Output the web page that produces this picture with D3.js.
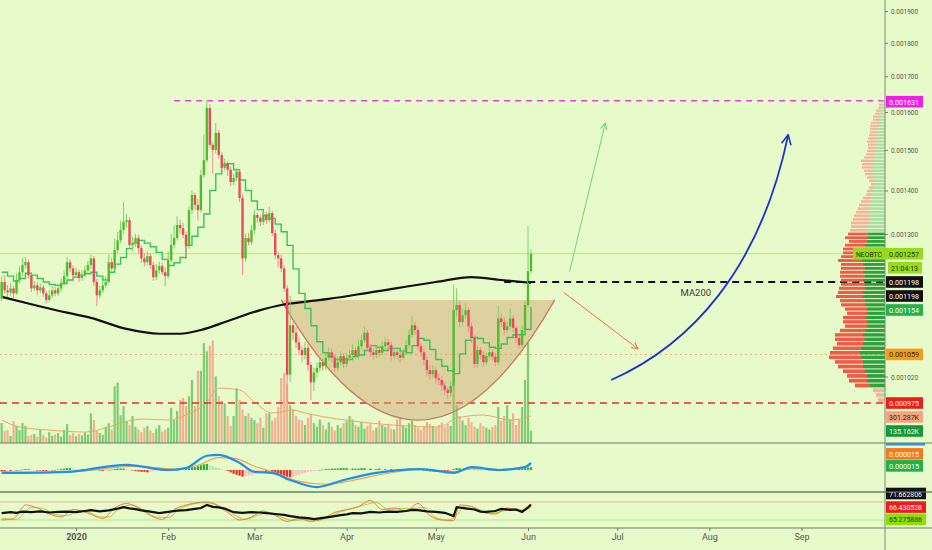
<!DOCTYPE html>
<meta charset="utf-8">
<body style="margin:0;background:#e7fbca">
<svg id="chart"></svg>
<script src="https://cdn.jsdelivr.net/npm/d3@7"></script>
<script>
const W = 932, H = 550;

// daily NEOBTC candles, first one on 2019-12-07, prices in 1e-6 BTC
const startDay = Date.UTC(2019, 11, 7);
const firstOpen = 1165;
const closes = [
  1198,1181,1177,1185,1175,1202,1218,1233,1239,1212,
  1185,1191,1181,1187,1175,1162,1171,1181,1175,1185,
  1195,1210,1239,1226,1212,1218,1206,1212,1222,1233,
  1247,1198,1171,1181,1191,1198,1239,1226,1265,1286,
  1309,1327,1331,1276,1280,1291,1269,1247,1239,1252,
  1233,1208,1222,1231,1218,1210,1243,1276,1291,1320,
  1313,1298,1274,1354,1389,1366,1354,1437,1474,1611,
  1513,1500,1544,1487,1455,1467,1450,1420,1430,1445,
  1382,1247,1291,1282,1309,1343,1336,1327,1343,1331,
  1347,1302,1254,1247,1226,1185,1023,1113,1099,1081,
  1067,1058,1071,1040,1010,1027,1035,1045,1038,1053,
  1063,1053,1035,1045,1056,1042,1053,1058,1067,1056,
  1074,1085,1099,1071,1063,1058,1067,1062,1074,1081,
  1076,1056,1063,1058,1053,1063,1076,1095,1113,1104,
  1074,1063,1049,1031,1024,1031,1017,1014,1005,997,
  992,1004,1142,1152,1119,1132,1142,1111,1089,1042,
  1067,1058,1045,1056,1063,1055,1045,1126,1119,1104,
  1111,1126,1108,1089,1076,1104,1152,1220,1257
];
const highs = [
  1210,1212,1192,1196,1190,1215,1230,1248,1250,1245,
  1218,1200,1198,1195,1192,1180,1182,1190,1188,1195,
  1205,1222,1250,1245,1232,1228,1224,1222,1232,1242,
  1255,1252,1205,1190,1200,1210,1255,1248,1290,1305,
  1330,1372,1345,1338,1295,1300,1298,1275,1258,1262,
  1258,1240,1235,1240,1238,1228,1262,1300,1320,1340,
  1332,1325,1305,1362,1400,1395,1380,1450,1540,1631,
  1622,1520,1570,1552,1495,1478,1472,1458,1440,1455,
  1450,1390,1300,1302,1320,1355,1348,1342,1352,1350,
  1362,1352,1310,1262,1255,1232,1192,1170,1125,1110,
  1090,1075,1082,1078,1045,1035,1045,1055,1052,1062,
  1072,1070,1060,1055,1065,1062,1062,1068,1078,1072,
  1085,1095,1110,1105,1078,1070,1075,1075,1082,1090,
  1088,1082,1072,1068,1065,1070,1085,1105,1130,1120,
  1110,1080,1070,1055,1040,1040,1036,1025,1020,1010,
  1002,1012,1193,1185,1160,1145,1155,1148,1118,1095,
  1075,1072,1065,1062,1070,1068,1062,1150,1135,1128,
  1120,1145,1132,1112,1095,1112,1160,1318,1267
];
const lows = [
  1160,1175,1168,1170,1165,1172,1195,1210,1225,1205,
  1178,1180,1172,1176,1168,1155,1158,1166,1169,1170,
  1178,1190,1205,1218,1205,1206,1198,1200,1208,1215,
  1225,1190,1150,1165,1175,1185,1195,1220,1222,1258,
  1280,1300,1315,1268,1262,1272,1258,1238,1230,1232,
  1225,1200,1202,1215,1212,1190,1205,1238,1268,1285,
  1300,1290,1245,1268,1345,1355,1330,1348,1430,1468,
  1505,1440,1490,1478,1448,1448,1435,1410,1412,1422,
  1372,1212,1240,1275,1276,1300,1325,1318,1320,1322,
  1325,1295,1245,1228,1218,1178,975,1010,1085,1070,
  1058,1045,1050,1030,980,995,1018,1028,1030,1032,
  1048,1045,1028,1030,1040,1035,1036,1048,1052,1050,
  1050,1068,1080,1065,1055,1050,1052,1055,1058,1068,
  1068,1048,1050,1050,1045,1048,1058,1070,1090,1095,
  1068,1055,1040,1020,1015,1018,1008,1005,995,988,
  982,985,1000,1130,1110,1112,1125,1100,1080,1035,
  1035,1050,1038,1040,1050,1048,1038,1040,1110,1095,
  1098,1105,1100,1080,1070,1072,1100,1148,1215
];
// volume, thousands
const vols = [
  222,133,144,78,244,189,144,222,189,78,
  89,100,70,155,90,60,120,80,95,110,
  70,145,210,90,110,75,100,85,120,95,
  330,255,140,110,90,180,220,150,630,670,
  310,410,240,200,300,180,150,120,170,190,
  140,110,160,200,130,150,170,390,255,355,
  480,500,410,520,700,410,800,800,1110,1020,
  1080,1140,740,520,470,440,300,190,300,610,
  480,370,300,330,280,255,220,280,170,330,
  330,250,280,400,720,780,650,420,380,300,
  260,250,200,280,320,220,180,260,200,150,
  230,180,140,200,170,220,240,300,260,200,
  180,230,160,190,220,140,170,250,200,180,
  210,160,150,260,290,190,170,220,250,200,
  170,150,180,230,210,190,170,200,230,180,
  210,190,650,420,300,250,200,280,230,180,
  160,220,190,170,150,180,200,400,250,300,
  420,260,330,200,260,400,700,1110,135
];
// green step line, one value every second day
const stepEvery = 2;
const stepLine = [
  1218,1210,1200,1205,1216,1212,1205,1198,1193,1191,
  1195,1202,1208,1212,1215,1218,1210,1202,1218,1235,
  1249,1268,1280,1286,1280,1272,1260,1245,1232,1238,
  1249,1275,1295,1315,1345,1400,1440,1462,1465,1450,
  1425,1400,1375,1355,1342,1335,1322,1305,1275,1225,
  1175,1145,1112,1082,1062,1055,1050,1050,1050,1055,
  1058,1066,1075,1072,1066,1070,1070,1065,1062,1075,
  1088,1085,1068,1050,1038,1030,1025,1060,1085,1090,
  1088,1080,1072,1070,1078,1090,1095,1095,1105,1148
];
// [day, value] pairs
const ma200 = [[0,1168],[11,1152],[22,1137],[30,1127],[42,1106],[53,1097],[60,1097],[67,1104],
  [77,1123],[87,1142],[94,1152],[103,1159],[110,1164],[124,1177],[146,1198],[158,1208],[168,1202],[178,1196]];
const volMa = [[0,255],[6,178],[16,144],[28,122],[36,178],[41,233],[48,266],[56,255],[62,311],[69,455],
  [73,610],[80,588],[85,455],[91,333],[98,366],[102,333],[124,222],[147,178],[153,277],[162,311],[171,255],[178,301]];
const macdLine = [[0,-6],[6,-6],[22,-4],[42,11],[56,0],[62,4],[69,30],[73,32],[80,15],[85,-4],[91,-6],
  [97,-21],[106,-36],[115,-21],[126,-6],[141,2],[152,-6],[158,6],[167,0],[176,6],[178,15]];
const macdSignal = [[0,-4],[10,-5],[25,-3],[45,8],[58,2],[66,10],[73,26],[78,25],[85,8],[92,-6],
  [100,-24],[109,-30],[118,-22],[128,-9],[141,1],[152,-3],[160,4],[168,1],[178,10]];
const macdHist = [
  -3,-3,-2,-2,-1,-1,0,1,2,2, 1,0,-1,-1,-2,-2,-1,-1,0,1,
  2,3,4,4,3,2,1,1,0,-1, 0,1,0,-1,-2,-1,0,1,2,3,
  3,3,2,1,-1,-2,-3,-4,-4,-5, -4,-3,-2,-1,-1,0,1,2,2,3,
  2,1,2,4,6,6,8,10,12,13, 10,8,6,4,2,0,-2,-5,-8,-10,
  -12,-14,-13,-12,-10,-8,-6,-5,-4,-4, -3,-4,-6,-8,-10,-12,-14,-15,-14,-12,
  -10,-8,-6,-4,-3,-2,-1,0,1,2, 2,3,3,3,4,4,4,3,3,3,
  3,4,4,3,3,2,2,3,2,2, 1,2,1,1,1,1,2,3,3,2,
  1,0,-1,-2,-3,-3,-4,-4,-4,-4, -4,-3,2,4,4,3,3,2,1,1,
  1,1,0,1,1,1,0,1,2,3, 3,3,2,2,2,3,4,5,6
];
const oscMain = [[0,43],[3,46],[5,44],[7,48],[10,46],[13,49],[16,45],[19,47],[22,48],[25,46],[28,50],[30,53],
  [33,49],[36,52],[39,58],[41,63],[43,59],[45,56],[47,52],[50,48],[53,43],[56,47],[59,51],[62,53],[65,57],
  [67,60],[69,70],[71,64],[73,62],[75,58],[78,46],[81,44],[84,46],[87,45],[89,43],[92,40],[95,37],[97,33],
  [100,29],[103,26],[105,23],[108,27],[111,31],[114,36],[116,39],[118,43],[121,42],[124,47],[127,45],
  [130,48],[133,47],[136,50],[138,54],[140,53],[143,49],[146,47],[149,44],[152,33],[153,63],[156,59],
  [159,55],[161,48],[163,47],[166,50],[168,57],[171,54],[173,55],[175,47],[177,62],[178,72]];
const oscK = [[0,20],[4,25],[8,70],[12,60],[16,40],[20,30],[24,55],[27,50],[31,35],[34,25],[38,60],[42,75],
  [46,60],[50,35],[54,22],[58,55],[62,70],[66,78],[69,80],[72,70],[76,45],[80,20],[84,30],[88,50],[92,35],
  [96,15],[100,25],[104,15],[108,25],[112,45],[116,55],[120,65],[124,85],[128,55],[132,60],[136,50],
  [140,75],[144,35],[148,20],[152,18],[154,70],[158,65],[162,45],[166,40],[170,60],[174,50],[178,66]];
const oscD = [[0,25],[5,22],[10,62],[14,58],[18,38],[22,35],[26,52],[29,47],[33,30],[36,30],[40,62],[44,70],
  [48,52],[52,30],[56,28],[60,58],[64,72],[68,78],[71,76],[74,62],[78,38],[82,22],[86,35],[90,45],[94,30],
  [98,18],[102,22],[106,18],[110,30],[114,48],[118,58],[122,70],[126,78],[130,55],[134,58],[138,58],
  [142,62],[146,28],[150,20],[153,35],[156,68],[160,58],[164,42],[168,48],[172,58],[176,52],[178,65]];

// visible range volume profile, rows of equal price step from the bottom
const vpStart = 975, vpStep = 8.2;
const vpDown = [50,60,80,150,180,200,220,250,280,320, 300,280,260,300,280,250,220,240,220,200,
  220,240,250,270,250,260,240,220,250,230, 240,220,240,220,200,220,200,180,220,200,
  180,170,180,160,150,140,120,110,100,80, 60,50,40,40,50,60,80,90,100,110,
  120,100,90,80,80,90,100,90,90,80, 80,90,80,70,70,60,50,40,30,20];
const vpUp = [20,30,40,150,180,180,200,220,220,240, 250,240,220,200,220,200,180,180,200,180,
  180,200,200,220,220,200,200,220,200,220, 200,220,230,220,220,200,200,180,180,170,
  170,170,160,160,160,150,150,150,140,140, 130,130,120,100,110,120,120,120,130,120,
  120,110,100,100,90,80,80,80,70,70, 70,60,60,50,50,40,40,30,30,20];
const valueArea = [3, 39];

const priceTicks = [1900, 1800, 1700, 1600, 1500, 1400, 1300, 1020];
const monthTicks = d3.range(0, 9).map(m => new Date(Date.UTC(2020, m, 1)));

// levels and drawings, [day, price]
const levelHigh = 1631, levelLow = 975, levelMid = 1059, lastPrice = 1257, ma200Level = 1198;
const cup = {left: 94, right: 186, top: 1162, bottom: 947};
const upArrow = [[191, 1220], [203, 1570]];
const downArrow = [[189, 1177], [214, 1069]];
const bigCurve = [[205, 1014], [231.5, 1076], [255, 1222], [264.5, 1539]];

const fmtP = v => (v / 1e6).toFixed(6);
const FONT = "Roboto, 'Liberation Sans', sans-serif";

const svg = d3.select("#chart").attr("width", W).attr("height", H).style("display", "block");
svg.append("rect").attr("width", W).attr("height", H).attr("fill", "#e7fbca");

const x = d3.scaleUtc()
  .domain([new Date(Date.UTC(2020, 0, 1)), new Date(Date.UTC(2020, 5, 1))])
  .range([76, 528]);
const day = i => new Date(startDay + i * 864e5);
const xi = i => x(day(i));
const y = d3.scaleLog().domain([975, 1900]).range([403, 11]);
const yVol = d3.scaleLinear().domain([0, 1000]).range([443, 353]);
const yMacd = d3.scaleLinear().domain([-40, 40]).range([489, 451]);
const yOsc = d3.scaleLinear().domain([20, 80]).range([520, 502]);
const vpW = d3.scaleLinear().domain([0, 600]).range([0, 60]);
const AX = 885;

const defs = svg.append("defs");
[["mainClip", 0, 0, AX, 443], ["macdClip", 0, 443, AX, 49], ["oscClip", 0, 492, AX, 36]].forEach(c => {
  defs.append("clipPath").attr("id", c[0]).append("rect")
    .attr("x", c[1]).attr("y", c[2]).attr("width", c[3]).attr("height", c[4]);
});
function marker(id, color, size) {
  defs.append("marker").attr("id", id).attr("viewBox", "0 0 10 10")
    .attr("refX", 9).attr("refY", 5).attr("markerWidth", size).attr("markerHeight", size)
    .attr("markerUnits", "userSpaceOnUse").attr("orient", "auto")
    .append("path").attr("d", "M1,1 L9,5 L1,9").attr("fill", "none")
    .attr("stroke", color).attr("stroke-width", 1.3);
}
marker("headG", "#6fcf6f", 8);
marker("headR", "#e8704f", 8);
marker("headB", "#1d2fd0", 12);

const candles = closes.map((c, i) => ({
  i, c, o: i ? closes[i - 1] : firstOpen, h: highs[i], l: lows[i], v: vols[i]
}));

const main = svg.append("g").attr("clip-path", "url(#mainClip)");

// volume
main.selectAll("rect.vol").data(candles).enter().append("rect")
  .attr("x", d => xi(d.i) - 1.1).attr("width", 2.2)
  .attr("y", d => yVol(d.v)).attr("height", d => yVol(0) - yVol(d.v))
  .attr("fill", d => d.c >= d.o ? "#72c86a" : "#f2a98a").attr("opacity", 0.9);
main.append("path").datum(volMa)
  .attr("d", d3.line().x(d => xi(d[0])).y(d => yVol(d[1])).curve(d3.curveMonotoneX))
  .attr("fill", "none").attr("stroke", "#f0a468").attr("stroke-width", 1);

// horizontal levels
function hline(g, price, from, color, width, dash) {
  g.append("line").attr("x1", from).attr("x2", AX).attr("y1", y(price)).attr("y2", y(price))
    .attr("stroke", color).attr("stroke-width", width).attr("stroke-dasharray", dash);
}
hline(main, lastPrice, 0, "#c3e858", 1, null);
hline(main, levelMid, 0, "#f0b070", 1, "2,3");
hline(main, levelLow, 0, "#ea2a2a", 1.6, "7,5");
hline(main, levelHigh, xi(58), "#e83ce0", 1.6, "6,5");

// cup
const cx0 = xi(cup.left), cx1 = xi(cup.right), cyTop = y(cup.top);
const cyCtrl = 2 * y(cup.bottom) - cyTop;
main.append("path")
  .attr("d", `M${cx0},${cyTop} L${cx1},${cyTop} Q${(cx0 + cx1) / 2},${cyCtrl} ${cx0},${cyTop} Z`)
  .attr("fill", "rgba(214,168,118,0.5)");
main.append("path")
  .attr("d", `M${cx0},${cyTop} Q${(cx0 + cx1) / 2},${cyCtrl} ${cx1},${cyTop}`)
  .attr("fill", "none").attr("stroke", "#c57c5c").attr("stroke-width", 1.3);

// MA200
main.append("path").datum(ma200)
  .attr("d", d3.line().x(d => xi(d[0])).y(d => y(d[1])).curve(d3.curveMonotoneX))
  .attr("fill", "none").attr("stroke", "#111").attr("stroke-width", 2.2);

// green step line
main.append("path").datum(stepLine)
  .attr("d", d3.line().x((d, k) => xi(k * stepEvery)).y(d => y(d)).curve(d3.curveStepAfter))
  .attr("fill", "none").attr("stroke", "#39c25a").attr("stroke-width", 1.4);

// candles
const cg = main.selectAll("g.candle").data(candles).enter().append("g");
cg.append("line")
  .attr("x1", d => xi(d.i)).attr("x2", d => xi(d.i))
  .attr("y1", d => y(Math.max(d.h, d.o, d.c))).attr("y2", d => y(Math.min(d.l, d.o, d.c)))
  .attr("stroke", d => d.c >= d.o ? "#7fcf6a" : "#ef8a8f").attr("stroke-width", 1);
cg.append("rect")
  .attr("x", d => xi(d.i) - 1.2).attr("width", 2.4)
  .attr("y", d => y(Math.max(d.o, d.c)))
  .attr("height", d => Math.max(1, y(Math.min(d.o, d.c)) - y(Math.max(d.o, d.c))))
  .attr("fill", d => d.c >= d.o ? "#4fbd2f" : "#ea4a58");

// MA200 level, arrows, text
hline(main, ma200Level, xi(169), "#111", 1.8, "7,5");
main.append("text").attr("x", xi(228.3)).attr("y", y(1170)).text("MA200")
  .attr("font-family", FONT).attr("font-size", 9.5).attr("fill", "#3a3a3a");
main.append("line")
  .attr("x1", xi(upArrow[0][0])).attr("y1", y(upArrow[0][1]))
  .attr("x2", xi(upArrow[1][0])).attr("y2", y(upArrow[1][1]))
  .attr("stroke", "#72d072").attr("stroke-width", 1).attr("marker-end", "url(#headG)");
main.append("line")
  .attr("x1", xi(downArrow[0][0])).attr("y1", y(downArrow[0][1]))
  .attr("x2", xi(downArrow[1][0])).attr("y2", y(downArrow[1][1]))
  .attr("stroke", "#e8704f").attr("stroke-width", 1).attr("marker-end", "url(#headR)");
const bp = bigCurve.map(d => [xi(d[0]), y(d[1])]);
main.append("path")
  .attr("d", `M${bp[0]} C${bp[1]} ${bp[2]} ${bp[3]}`)
  .attr("fill", "none").attr("stroke", "#1d2fd0").attr("stroke-width", 1.8)
  .attr("marker-end", "url(#headB)");

// volume profile
const vpRows = vpDown.map((dn, k) => ({k, dn, up: vpUp[k], p0: vpStart + k * vpStep, p1: vpStart + (k + 1) * vpStep}));
const inVA = d => d.k >= valueArea[0] && d.k <= valueArea[1];
const vp = svg.append("g");
vp.selectAll("rect.dn").data(vpRows).enter().append("rect")
  .attr("x", d => AX - vpW(d.up) - vpW(d.dn)).attr("width", d => vpW(d.dn))
  .attr("y", d => y(d.p1)).attr("height", d => Math.max(1, y(d.p0) - y(d.p1) - 1))
  .attr("fill", d => inVA(d) ? "#f05a46" : "#f5b39a");
vp.selectAll("rect.up").data(vpRows).enter().append("rect")
  .attr("x", d => AX - vpW(d.up)).attr("width", d => vpW(d.up))
  .attr("y", d => y(d.p1)).attr("height", d => Math.max(1, y(d.p0) - y(d.p1) - 1))
  .attr("fill", d => inVA(d) ? "#2fa03e" : "#a9dea3");

// MACD pane
const mg = svg.append("g").attr("clip-path", "url(#macdClip)");
mg.selectAll("rect").data(macdHist).enter().append("rect")
  .attr("x", (d, i) => xi(i) - 1.1).attr("width", 2.2)
  .attr("y", d => yMacd(Math.max(0, d)))
  .attr("height", d => Math.max(0.6, Math.abs(yMacd(d) - yMacd(0))))
  .attr("fill", (d, i) => {
    const prev = i ? macdHist[i - 1] : d;
    if (d >= 0) return d >= prev ? "#22b03a" : "#b5e6b0";
    return d <= prev ? "#ee2a2a" : "#f6c0b8";
  });
const lineI = (sc) => d3.line().x(d => xi(d[0])).y(d => sc(d[1])).curve(d3.curveMonotoneX);
mg.append("path").datum(macdSignal).attr("d", lineI(yMacd))
  .attr("fill", "none").attr("stroke", "#f0a050").attr("stroke-width", 1.1);
mg.append("path").datum(macdLine).attr("d", lineI(yMacd))
  .attr("fill", "none").attr("stroke", "#1e90e8").attr("stroke-width", 2.2);

// oscillator pane
const og = svg.append("g").attr("clip-path", "url(#oscClip)");
og.append("line").attr("x1", 0).attr("x2", AX).attr("y1", yOsc(80)).attr("y2", yOsc(80))
  .attr("stroke", "#e6cba3").attr("stroke-width", 1.6);
og.append("line").attr("x1", 0).attr("x2", AX).attr("y1", yOsc(20)).attr("y2", yOsc(20))
  .attr("stroke", "#b6e19a").attr("stroke-width", 1);
const lineL = (sc) => d3.line().x(d => xi(d[0])).y(d => sc(d[1])).curve(d3.curveLinear);
og.append("path").datum(oscD).attr("d", lineI(yOsc))
  .attr("fill", "none").attr("stroke", "#b2cc2a").attr("stroke-width", 1);
og.append("path").datum(oscK).attr("d", lineI(yOsc))
  .attr("fill", "none").attr("stroke", "#f07a4a").attr("stroke-width", 1);
og.append("path").datum(oscMain).attr("d", lineL(yOsc))
  .attr("fill", "none").attr("stroke", "#111").attr("stroke-width", 2.2);

// separators and axis line
[443, 492, 528].forEach(yy => {
  svg.append("line").attr("x1", 0).attr("x2", W).attr("y1", yy).attr("y2", yy)
    .attr("stroke", "#6f7a68").attr("stroke-width", 1);
});
svg.append("line").attr("x1", AX).attr("x2", AX).attr("y1", 0).attr("y2", H)
  .attr("stroke", "#7d8a74").attr("stroke-width", 1);

// price axis
const pa = svg.append("g").attr("transform", `translate(${AX},0)`)
  .call(d3.axisRight(y).tickValues(priceTicks).tickFormat(fmtP).tickSize(3).tickPadding(3));
pa.select(".domain").remove();
pa.selectAll("line").attr("stroke", "#777");
pa.selectAll("text").attr("font-family", FONT).attr("font-size", 8).attr("fill", "#555")
  .attr("textLength", 27).attr("lengthAdjust", "spacingAndGlyphs");

// time axis
const ta = svg.append("g").attr("transform", "translate(0,528)")
  .call(d3.axisBottom(x).tickValues(monthTicks).tickSize(3)
    .tickFormat(d => d.getUTCMonth() === 0 ? d.getUTCFullYear() : d3.utcFormat("%b")(d)));
ta.select(".domain").remove();
ta.selectAll("line").attr("stroke", "#777");
ta.selectAll("text").attr("font-family", FONT).attr("font-size", 9).attr("fill", "#555")
  .attr("font-weight", d => d.getUTCMonth() === 0 ? "bold" : null);

// value badges on the price scale
function badge(yc, text, bg, fg, w, x0) {
  const bx = x0 || AX + 1;
  svg.append("rect").attr("x", bx).attr("y", yc - 5.8).attr("width", w || 37).attr("height", 11.6)
    .attr("fill", bg);
  svg.append("text").attr("x", bx + 3).attr("y", yc + 3).text(text)
    .attr("font-family", FONT).attr("font-size", 8).attr("fill", fg)
    .attr("textLength", (w || 37) - 7).attr("lengthAdjust", "spacingAndGlyphs");
}
// stack the price badges so they do not overlap
const priceBadges = [
  {y: y(lastPrice), t: null},
  {y: y(lastPrice) + 12, t: "21:04:13", bg: "#97da1e", fg: "#1f3300", w: 34, x0: AX + 3},
  {y: y(ma200Level), t: fmtP(ma200Level), bg: "#111", fg: "#fff"},
  {y: y(ma200Level), t: fmtP(ma200Level), bg: "#111", fg: "#fff"},
  {y: y(1154), t: fmtP(1154), bg: "#22b24c", fg: "#fff"},
  {y: y(levelMid), t: fmtP(levelMid), bg: "#f59c1c", fg: "#3b2200"},
  {y: y(levelLow), t: fmtP(levelLow), bg: "#f01c1c", fg: "#fff"},
  {y: yVol(301.287), t: "301.287K", bg: "#f4a47f", fg: "#3b1a00"},
  {y: yVol(135.162), t: "135.162K", bg: "#17963a", fg: "#fff"}
];
for (let k = 1; k < priceBadges.length; k++) {
  if (priceBadges[k].y < priceBadges[k - 1].y + 14) priceBadges[k].y = priceBadges[k - 1].y + 14;
}
priceBadges.forEach(b => { if (b.t) badge(b.y, b.t, b.bg, b.fg, b.w, b.x0); });
badge(y(levelHigh) + 1, fmtP(levelHigh), "#f01ee8", "#fff");
// symbol + last price
const ly = priceBadges[0].y;
svg.append("rect").attr("x", 853).attr("y", ly - 5.8).attr("width", 70).attr("height", 11.6).attr("fill", "#97da1e");
svg.append("text").attr("x", 856).attr("y", ly + 3).text("NEOBTC")
  .attr("font-family", FONT).attr("font-size", 8).attr("fill", "#1f3300")
  .attr("textLength", 26).attr("lengthAdjust", "spacingAndGlyphs");
svg.append("text").attr("x", 889).attr("y", ly + 3).text(fmtP(lastPrice))
  .attr("font-family", FONT).attr("font-size", 8).attr("fill", "#1f3300")
  .attr("textLength", 30).attr("lengthAdjust", "spacingAndGlyphs");

// indicator badges
svg.append("rect").attr("x", AX + 1).attr("y", 443).attr("width", 39).attr("height", 2.5).attr("fill", "#2196f3");
badge(yMacd(15) - 9, "0.000015", "#f7791f", "#fff");
badge(yMacd(15) + 3, "0.000015", "#1fb24a", "#fff");
badge(yOsc(71.662806) - 11, "71.662806", "#111", "#fff", 40);
badge(yOsc(66.430528) + 1, "66.430528", "#f01c1c", "#fff", 40);
badge(yOsc(65.275886) + 13, "65.275886", "#8fe000", "#1f3300", 40);
svg.append("line").attr("x1", 0).attr("x2", W).attr("y1", 492).attr("y2", 492)
  .attr("stroke", "#6f7a68").attr("stroke-width", 1);
</script>
</body>
